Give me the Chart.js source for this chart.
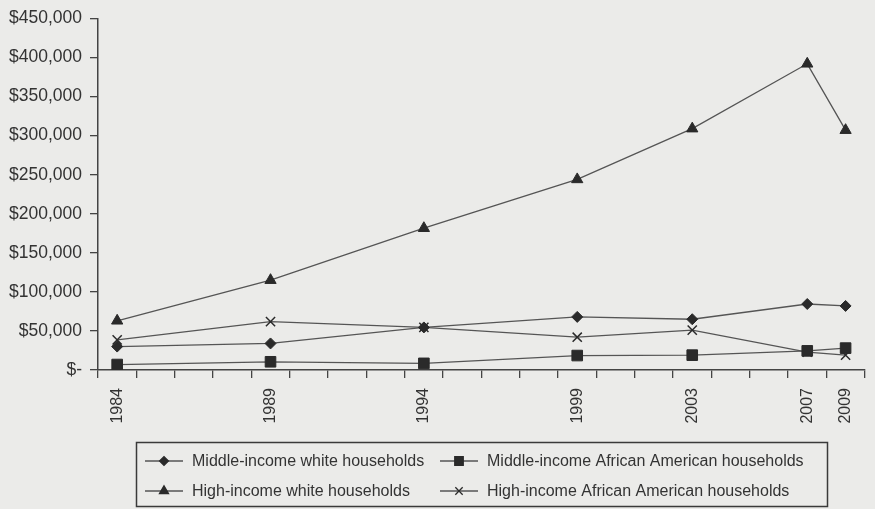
<!DOCTYPE html>
<html lang="en">
<head>
<meta charset="UTF-8">
<title>Median net worth by income group and race, 1984-2009</title>
<script src="https://cdn.jsdelivr.net/npm/chart.js"></script>
<style>
  html, body { margin: 0; padding: 0; background: #ebebe9; }
  #wrap { position: relative; width: 875px; height: 509px; }
</style>
</head>
<body>
<div id="wrap"><canvas id="wealthChart" width="875" height="509"></canvas></div>
<script>
// axis slots (one tick mark per slot, survey years labelled)
const axisSlots = ['1984', '', '', '', '1989', '', '', '', '1994', '', '', '', '1999', '', '', '2003', '', '', '2007', '2009'];
const years = ['1984', '1989', '1994', '1999', '2003', '2007', '2009'];

const middleWhite = [30000, 34000, 54500, 68000, 65000, 84500, 82000];
const middleBlack = [7000, 10500, 8500, 18500, 19000, 24500, 28000];
const highWhite = [63000, 115000, 181500, 244000, 309000, 392000, 307000];
const highBlack = [38500, 62000, 54500, 42000, 51000, 23000, 19000];

const yTicks = [0, 50000, 100000, 150000, 200000, 250000, 300000, 350000, 400000, 450000];

const ink = '#2a2a2a';
const lineGray = '#555';
const fontFamily = "'Liberation Sans', Arial, sans-serif";

function series(label, values, pointStyle, radius) {
    return {
        label: label,
        data: years.map((y, i) => ({ x: y, y: values[i] })),
        borderColor: lineGray,
        borderWidth: 1.3,
        tension: 0,
        pointStyle: pointStyle,
        pointRadius: radius,
        pointBackgroundColor: ink,
        pointBorderColor: ink,
        pointBorderWidth: pointStyle === 'crossRot' ? 1.5 : 1
    };
}

// boxed two-column legend under the x axis
const boxedLegend = {
    id: 'boxedLegend',
    afterDraw(chart) {
        const ctx = chart.ctx;
        ctx.save();
        ctx.strokeStyle = '#3a3a3a';
        ctx.lineWidth = 1.5;
        ctx.strokeRect(136.5, 442.5, 691, 64);

        const cols = [145, 440];
        const rows = [461, 491];
        ctx.font = '16px ' + fontFamily;
        ctx.textBaseline = 'middle';
        ctx.textAlign = 'left';
        chart.data.datasets.forEach((ds, i) => {
            const x = cols[i % 2];
            const y = rows[Math.floor(i / 2)];
            ctx.strokeStyle = lineGray;
            ctx.lineWidth = 1.3;
            ctx.beginPath();
            ctx.moveTo(x, y);
            ctx.lineTo(x + 38, y);
            ctx.stroke();
            ctx.fillStyle = ink;
            ctx.strokeStyle = ink;
            Chart.helpers.drawPoint(ctx, {
                pointStyle: ds.pointStyle,
                radius: ds.pointRadius * 0.8,
                rotation: 0,
                borderWidth: ds.pointBorderWidth
            }, x + 19, y);
            ctx.fillStyle = '#333';
            ctx.fillText(ds.label, x + 47, y + 1);
        });
        ctx.restore();
    }
};

const ctx = document.getElementById('wealthChart').getContext('2d');
const wealthChart = new Chart(ctx, {
    type: 'line',
    data: {
        labels: axisSlots,
        datasets: [
            series('Middle-income white households', middleWhite, 'rectRot', 5.5),
            series('Middle-income African American households', middleBlack, 'rect', 7.5),
            series('High-income white households', highWhite, 'triangle', 6.5),
            series('High-income African American households', highBlack, 'crossRot', 6.5)
        ]
    },
    options: {
        responsive: false,
        animation: false,
        layout: { padding: { left: 0, top: 10, right: 8, bottom: 79 } },
        plugins: {
            legend: { display: false },
            tooltip: { enabled: false }
        },
        scales: {
            x: {
                type: 'category',
                offset: true,
                grid: { offset: true, drawOnChartArea: false, drawTicks: true, tickLength: 8, color: '#444', lineWidth: 1.3 },
                border: { display: true, color: '#444', width: 1.5 },
                ticks: {
                    autoSkip: false,
                    maxRotation: 90,
                    minRotation: 90,
                    padding: 10,
                    color: '#333',
                    font: { family: fontFamily, size: 16 }
                },
                afterFit(scale) { scale.height = 60; }
            },
            y: {
                min: 0,
                max: 450000,
                afterBuildTicks(scale) { scale.ticks = yTicks.map(v => ({ value: v })); },
                grid: { drawOnChartArea: false, drawTicks: true, tickLength: 8, color: '#444', lineWidth: 1.3 },
                border: { display: true, color: '#444', width: 1.5 },
                ticks: {
                    padding: 8,
                    color: '#333',
                    font: { family: fontFamily, size: 17.5 },
                    callback: v => v === 0 ? '$-' : '$' + v.toLocaleString('en-US')
                },
                afterFit(scale) { scale.width = 98; }
            }
        }
    },
    plugins: [boxedLegend]
});
</script>
</body>
</html>
